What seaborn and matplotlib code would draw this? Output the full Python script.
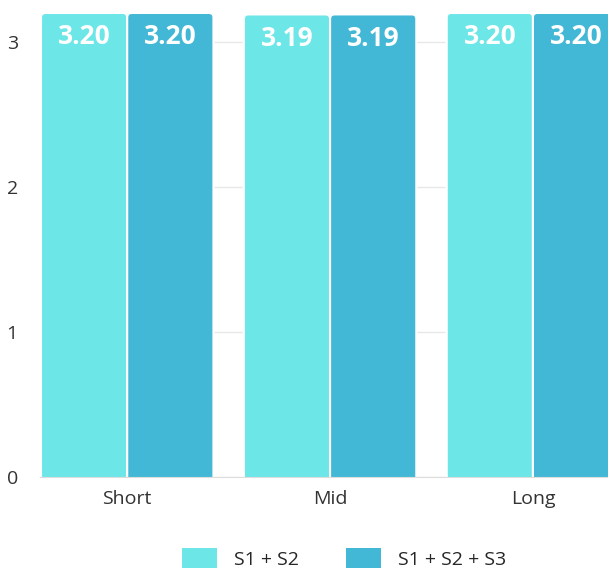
import numpy as np
import pandas as pd
import matplotlib
matplotlib.use("Agg")
import matplotlib.pyplot as plt
from matplotlib.patches import FancyBboxPatch, Patch
import seaborn as sns

horizons = ["Short", "Mid", "Long"]
series = ["S1 + S2", "S1 + S2 + S3"]
s12 = [3.20, 3.19, 3.20]
s123 = [3.20, 3.19, 3.20]
colors = ["#6de6e8", "#42b8d6"]

df = pd.DataFrame({
    "horizon": horizons * 2,
    "model": [series[0]] * 3 + [series[1]] * 3,
    "value": s12 + s123,
})

sns.set_style("white")
plt.rcParams["font.family"] = ["Open Sans", "DejaVu Sans"]

fig = plt.figure(figsize=(6.08, 5.69), dpi=100)
ax = fig.add_axes([40 / 608, 92 / 569, 568 / 608, 472 / 569])

sns.barplot(data=df, x="horizon", y="value", hue="model", palette=colors,
            saturation=1, width=0.85, edgecolor="white", linewidth=1.5,
            ax=ax, legend=False)

ax.set_xlim(-0.43, 2.37)
ax.set_ylim(0, 3.255)

# rounded tops: swap each bar for a rounded box that starts below 0 (clipped)
for p in list(ax.patches):
    x, w, h = p.get_x(), p.get_width(), p.get_height()
    rb = FancyBboxPatch((x, -0.05), w, h + 0.05,
                        boxstyle="round,pad=0,rounding_size=0.022",
                        mutation_aspect=1.4, facecolor=p.get_facecolor(),
                        edgecolor="white", linewidth=1.5, zorder=p.get_zorder())
    p.set_visible(False)
    ax.add_patch(rb)

ax.set_yticks([0, 1, 2, 3])
ax.yaxis.grid(True, color="#e8e8e8", linewidth=1)
ax.set_axisbelow(True)
for s in ["top", "right", "left"]:
    ax.spines[s].set_visible(False)
ax.spines["bottom"].set_color("#dddddd")
ax.spines["bottom"].set_zorder(5)
ax.tick_params(axis="both", length=0, labelsize=14, colors="#333333")
ax.tick_params(axis="y", pad=16)
ax.tick_params(axis="x", pad=9)
ax.set_xlabel("")
ax.set_ylabel("")

for cont in ax.containers:
    ax.bar_label(cont, fmt="%.2f", label_type="edge", padding=-27,
                 color="white", fontsize=19, fontweight="bold")

handles = [Patch(facecolor=c, edgecolor="none") for c in colors]
fig.legend(handles, series, loc="lower center", bbox_to_anchor=(0.566, -0.03),
           ncol=2, frameon=False, fontsize=14, handlelength=1.8,
           handleheight=1.15, handletextpad=0.9, columnspacing=2.4)

fig.savefig("out.png", dpi=100)
